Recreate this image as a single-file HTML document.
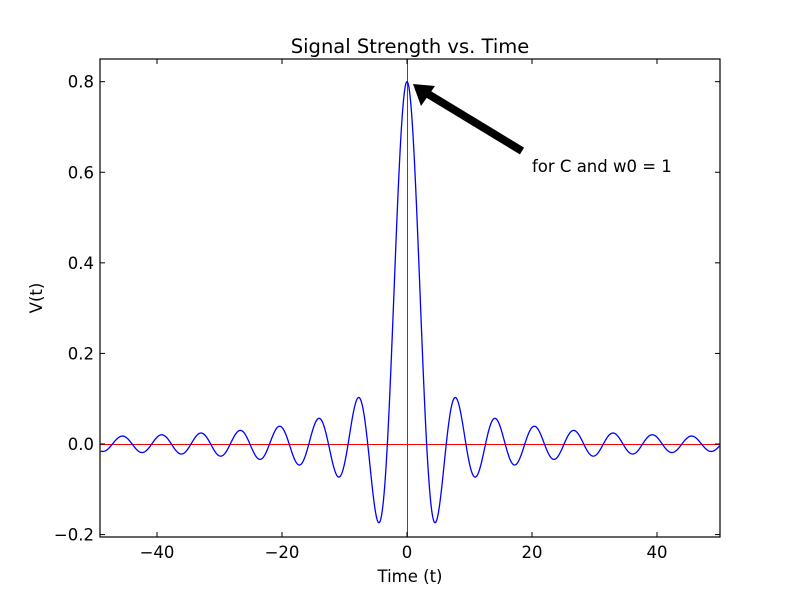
<!DOCTYPE html>
<html><head><meta charset="utf-8"><style>
html,body{margin:0;padding:0;background:#fff;}
svg{display:block;font-family:"DejaVu Sans","Liberation Sans",sans-serif;}
</style></head><body>
<svg id="s" width="800" height="597" viewBox="0 0 800 597" xmlns="http://www.w3.org/2000/svg">
<rect width="800" height="597" fill="#fff"/>
<defs><clipPath id="c"><rect x="100" y="59" width="620" height="478"/></clipPath></defs>
<g clip-path="url(#c)">
<line x1="100" y1="444.5" x2="720" y2="444.5" stroke="#ff0000" stroke-width="1"/>
<line x1="407.5" y1="59" x2="407.5" y2="537" stroke="#007f00" stroke-width="1"/>
<path id="curve" fill="none" stroke="#0000ff" stroke-width="1.3"/>
</g>
<rect x="100" y="59" width="620" height="478" fill="none" stroke="#000" stroke-width="1.2"/>
<g id="ticks" stroke="#000" stroke-width="1"></g>
<g font-size="16.5" fill="#000" text-anchor="middle" id="xl"></g>
<g font-size="16.5" fill="#000" text-anchor="end" id="yl"></g>
<text x="410" y="53" font-size="19.5" text-anchor="middle">Signal Strength vs. Time</text>
<text x="410" y="582" font-size="16.5" text-anchor="middle">Time (t)</text>
<text transform="translate(42,298) rotate(-90)" font-size="16.5" text-anchor="middle">V(t)</text>
<line x1="522" y1="151" x2="428" y2="94" stroke="#000" stroke-width="8"/>
<polygon points="413,84 435,86 421,106" fill="#000"/>
<text x="532" y="172" font-size="16.5">for C and w0 = 1</text>
</svg>
<script>
var X=function(t){return 407+t*6.25}, Y=function(v){return 444-v*452.9};
var d="";for(var i=0;i<=2000;i++){var t=-49+99*i/2000;var v=Math.abs(t)<1e-9?0.8:0.8*Math.sin(t)/t;d+=(i?"L":"M")+X(t).toFixed(2)+","+Y(v).toFixed(2);}
document.getElementById("curve").setAttribute("d",d);
var ns="http://www.w3.org/2000/svg",tk=document.getElementById("ticks"),xl=document.getElementById("xl"),yl=document.getElementById("yl");
function ln(a,b,c,e){var l=document.createElementNS(ns,"line");l.setAttribute("x1",a);l.setAttribute("y1",b);l.setAttribute("x2",c);l.setAttribute("y2",e);tk.appendChild(l);}
function tx(g,x,y,s){var t=document.createElementNS(ns,"text");t.setAttribute("x",x);t.setAttribute("y",y);t.textContent=s;g.appendChild(t);}
[-40,-20,0,20,40].forEach(function(t){var x=X(t);ln(x,537,x,532);ln(x,59,x,64);tx(xl,x,558,(t<0?"\u2212":"")+Math.abs(t));});
[-0.2,0,0.2,0.4,0.6,0.8].forEach(function(v){var y=Y(v);ln(100,y,105,y);ln(720,y,715,y);tx(yl,94,y+6,(v<0?"\u2212":"")+Math.abs(v).toFixed(1));});
</script>
</body></html>
